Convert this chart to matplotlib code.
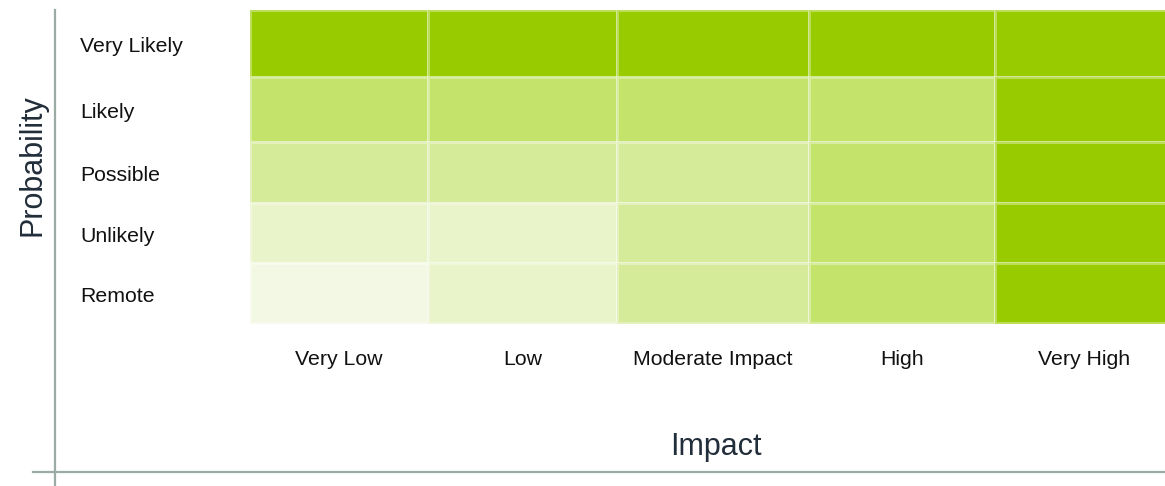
import numpy as np
import matplotlib
matplotlib.use("Agg")
import matplotlib.pyplot as plt
from matplotlib.colors import ListedColormap, BoundaryNorm

# risk matrix: rows top->bottom, columns left->right
probability = ["Very Likely", "Likely", "Possible", "Unlikely", "Remote"]
impact = ["Very Low", "Low", "Moderate Impact", "High", "Very High"]
levels = [
    [5, 5, 5, 5, 5],
    [4, 4, 4, 4, 5],
    [3, 3, 3, 4, 5],
    [2, 2, 3, 4, 5],
    [1, 2, 3, 4, 5],
]
level_colors = ["#f3f8e4", "#e9f4ca", "#d6eb9a", "#c3e36b", "#99cc00"]

# layout (pixels); last column runs past the right edge
W, H = 1165, 486
col_edges = [250, 428, 617, 809, 995, 1173]
row_edges = [10, 77, 142, 203, 263, 323]

fig = plt.figure(figsize=(W / 100, H / 100), dpi=100)
ax = fig.add_axes([0, 0, 1, 1])
ax.set_xlim(0, W)
ax.set_ylim(H, 0)
ax.axis("off")

cmap = ListedColormap(level_colors)
norm = BoundaryNorm(np.arange(0.5, 6.5, 1), cmap.N)
ax.pcolormesh(col_edges, row_edges, np.array(levels), cmap=cmap, norm=norm,
              edgecolor=(1, 1, 1, 0.35), linewidth=1.0)

# row / column labels
for i, name in enumerate(probability):
    y = (row_edges[i] + row_edges[i + 1]) / 2 + 8.7
    ax.text(80, y, name, ha="left", va="baseline", fontsize=15.3,
            family="Liberation Sans", color="#111111")
for j, name in enumerate(impact):
    x = (col_edges[j] + col_edges[j + 1]) / 2
    ax.text(x, 365, name, ha="center", va="baseline", fontsize=15.3,
            family="Liberation Sans", color="#111111")

# axis titles
ax.text(716, 455, "Impact", ha="center", va="baseline", fontsize=22,
        family="Liberation Sans", color="#222d3a")
ax.text(40, 165, "Probability", ha="center", va="baseline", fontsize=22,
        family="Liberation Sans", color="#222d3a", rotation=90,
        rotation_mode="anchor")

# frame lines
ax.plot([55, 55], [10, H], color="#9aaba6", linewidth=1.6)
ax.plot([33, W], [472, 472], color="#9aaba6", linewidth=1.6)

fig.savefig("out.png", dpi=100)
